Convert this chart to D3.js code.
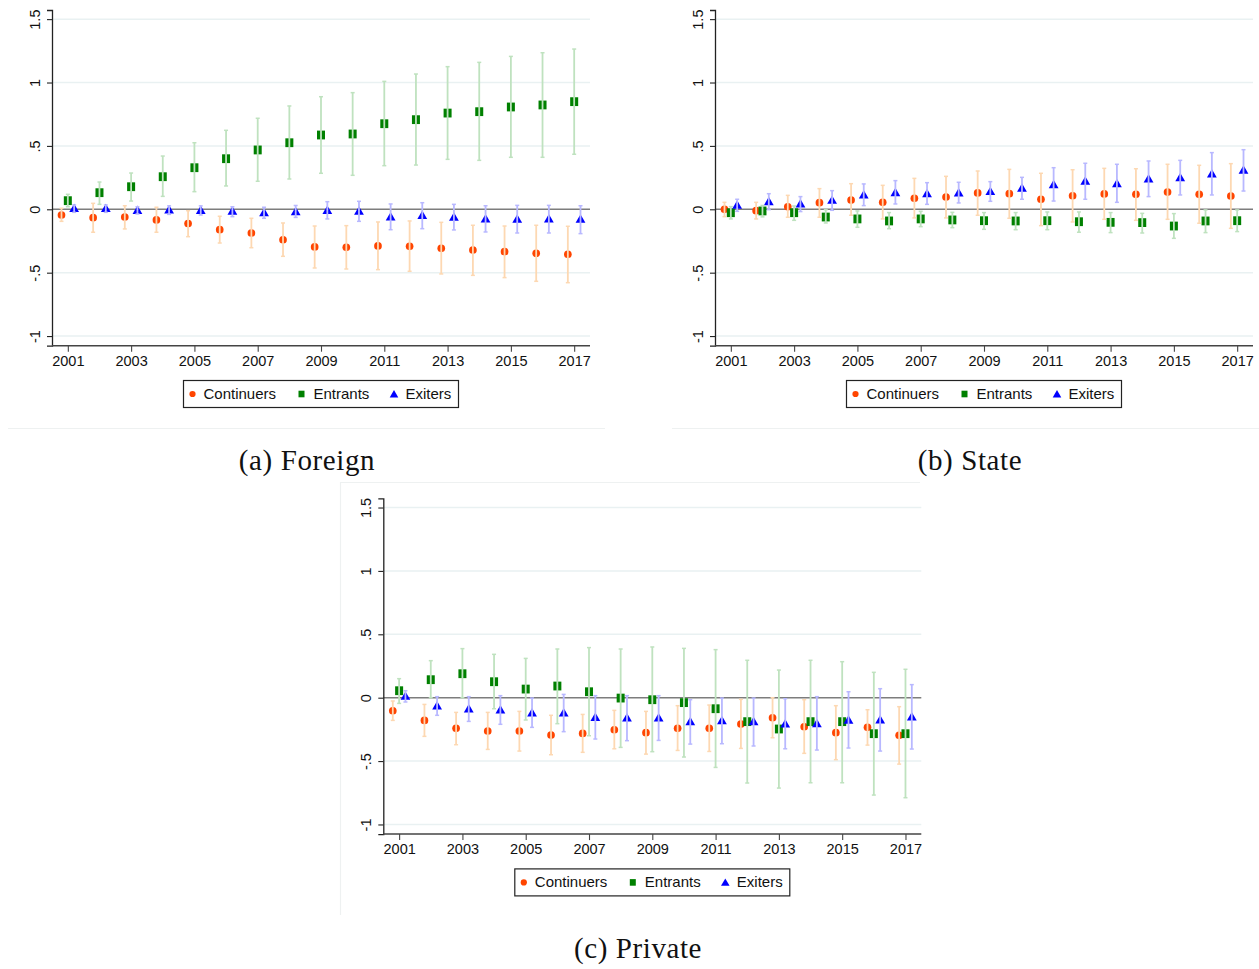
<!DOCTYPE html>
<html><head><meta charset="utf-8">
<script src="https://cdn.jsdelivr.net/npm/d3@7"></script>
<style>
html,body{margin:0;padding:0;background:#fff;}
svg{display:block;}
</style></head>
<body>
<script>
// ---------- DATA ----------
const years = [2001,2002,2003,2004,2005,2006,2007,2008,2009,2010,2011,2012,2013,2014,2015,2016,2017];
const xTickYears = [2001,2003,2005,2007,2009,2011,2013,2015,2017];
const yTickValues = [-1,-0.5,0,0.5,1,1.5];
const yTickLabels = ["-1","-.5","0",".5","1","1.5"];
const seriesNames = ["Continuers","Entrants","Exiters"];
const panelCaptions = ["(a) Foreign","(b) State","(c) Private"];

// (a) Foreign
const foreignContCoef = [-0.045,-0.066,-0.061,-0.084,-0.113,-0.161,-0.187,-0.240,-0.297,-0.300,-0.289,-0.292,-0.308,-0.321,-0.334,-0.347,-0.355];
const foreignContHi   = [0.008,0.047,0.028,0.016,-0.011,-0.055,-0.071,-0.108,-0.132,-0.129,-0.100,-0.092,-0.103,-0.126,-0.132,-0.126,-0.134];
const foreignContLo   = [-0.095,-0.181,-0.155,-0.181,-0.216,-0.266,-0.303,-0.371,-0.463,-0.471,-0.476,-0.489,-0.510,-0.521,-0.539,-0.568,-0.579];
const foreignEntCoef  = [0.068,0.131,0.178,0.257,0.328,0.399,0.468,0.525,0.586,0.594,0.675,0.707,0.759,0.770,0.807,0.823,0.849];
const foreignEntHi    = [0.118,0.215,0.286,0.420,0.525,0.623,0.718,0.815,0.888,0.920,1.009,1.067,1.125,1.159,1.206,1.235,1.264];
const foreignEntLo    = [0.020,0.039,0.065,0.102,0.139,0.184,0.221,0.239,0.284,0.268,0.344,0.349,0.394,0.386,0.410,0.410,0.434];
const foreignExitCoef = [0.008,0.008,-0.006,-0.003,-0.006,-0.013,-0.024,-0.016,-0.006,-0.013,-0.058,-0.047,-0.061,-0.074,-0.076,-0.074,-0.076];
const foreignExitHi   = [0.034,0.034,0.020,0.027,0.027,0.020,0.016,0.030,0.060,0.063,0.042,0.052,0.039,0.028,0.031,0.031,0.028];
const foreignExitLo   = [-0.024,-0.024,-0.037,-0.040,-0.045,-0.058,-0.071,-0.064,-0.076,-0.095,-0.161,-0.153,-0.163,-0.179,-0.187,-0.187,-0.192];

// (b) State
const stateContCoef = [0.000,-0.011,0.020,0.052,0.073,0.055,0.087,0.097,0.129,0.123,0.079,0.107,0.121,0.118,0.136,0.118,0.105];
const stateContHi   = [0.055,0.055,0.110,0.163,0.202,0.189,0.244,0.260,0.302,0.315,0.284,0.312,0.323,0.320,0.355,0.347,0.360];
const stateContLo   = [-0.058,-0.076,-0.063,-0.063,-0.047,-0.076,-0.068,-0.068,-0.047,-0.071,-0.129,-0.100,-0.079,-0.087,-0.079,-0.110,-0.150];
const stateEntCoef  = [-0.027,-0.013,-0.027,-0.061,-0.076,-0.092,-0.076,-0.084,-0.090,-0.092,-0.090,-0.098,-0.103,-0.105,-0.132,-0.092,-0.090];
const stateEntHi    = [0.021,0.030,0.026,-0.003,-0.013,-0.026,-0.016,-0.024,-0.026,-0.026,-0.021,-0.021,-0.026,-0.032,-0.034,-0.005,-0.005];
const stateEntLo    = [-0.076,-0.060,-0.087,-0.108,-0.142,-0.153,-0.137,-0.145,-0.158,-0.161,-0.161,-0.181,-0.184,-0.187,-0.229,-0.184,-0.176];
const stateExitCoef = [0.034,0.063,0.044,0.073,0.115,0.134,0.126,0.131,0.142,0.168,0.197,0.223,0.205,0.241,0.252,0.281,0.310];
const stateExitHi   = [0.079,0.123,0.100,0.147,0.200,0.226,0.210,0.213,0.218,0.252,0.328,0.363,0.355,0.381,0.386,0.447,0.470];
const stateExitLo   = [-0.016,-0.003,-0.018,-0.008,0.029,0.042,0.039,0.050,0.063,0.079,0.065,0.079,0.055,0.100,0.113,0.113,0.144];

// (c) Private
const privContCoef = [-0.103,-0.179,-0.242,-0.263,-0.263,-0.295,-0.282,-0.253,-0.276,-0.242,-0.242,-0.208,-0.158,-0.229,-0.276,-0.234,-0.297];
const privContHi   = [-0.026,-0.053,-0.116,-0.116,-0.108,-0.139,-0.132,-0.100,-0.108,-0.063,-0.058,-0.013,0.000,-0.016,-0.063,-0.095,-0.071];
const privContLo   = [-0.179,-0.305,-0.371,-0.408,-0.421,-0.450,-0.431,-0.403,-0.445,-0.416,-0.424,-0.400,-0.316,-0.439,-0.489,-0.374,-0.524];
const privEntCoef  = [0.055,0.142,0.189,0.126,0.068,0.092,0.047,-0.003,-0.016,-0.039,-0.087,-0.189,-0.247,-0.189,-0.189,-0.284,-0.284];
const privEntHi    = [0.150,0.292,0.387,0.342,0.310,0.384,0.395,0.384,0.400,0.389,0.379,0.295,0.218,0.295,0.284,0.200,0.224];
const privEntLo    = [-0.045,0.000,0.000,-0.087,-0.176,-0.205,-0.300,-0.392,-0.426,-0.468,-0.550,-0.673,-0.713,-0.671,-0.671,-0.768,-0.789];
const privExitCoef = [0.013,-0.063,-0.087,-0.095,-0.118,-0.118,-0.153,-0.158,-0.158,-0.187,-0.179,-0.187,-0.205,-0.203,-0.176,-0.174,-0.150];
const privExitHi   = [0.055,0.008,0.008,0.016,-0.003,0.026,0.016,0.016,0.016,-0.016,-0.003,-0.003,-0.008,0.008,0.047,0.071,0.103];
const privExitLo   = [-0.034,-0.139,-0.187,-0.210,-0.234,-0.268,-0.326,-0.339,-0.337,-0.366,-0.363,-0.381,-0.403,-0.413,-0.397,-0.421,-0.405];

// ---------- STYLE / LAYOUT ----------
const W = 1259, H = 969;
const markerColors = ["#ff4500","#008000","#0000ff"];
const barColors = ["#fdd8b2","#bfe2bf","#b8b8ff"];
const yearOffsets = [-0.2, 0, 0.2];
const plotW = 538, plotH = 335.7;
const sansFont = "'Liberation Sans', Arial, Helvetica, sans-serif";
const serifFont = "'Liberation Serif', 'DejaVu Serif', serif";

const panels = [
  {L: 52,    T: 10,    capX: 307, capY: 470,
   series: [[foreignContCoef,foreignContLo,foreignContHi],[foreignEntCoef,foreignEntLo,foreignEntHi],[foreignExitCoef,foreignExitLo,foreignExitHi]]},
  {L: 715,   T: 10,    capX: 970, capY: 470,
   series: [[stateContCoef,stateContLo,stateContHi],[stateEntCoef,stateEntLo,stateEntHi],[stateExitCoef,stateExitLo,stateExitHi]]},
  {L: 383.3, T: 498.4, capX: 638, capY: 958,
   series: [[privContCoef,privContLo,privContHi],[privEntCoef,privEntLo,privEntHi],[privExitCoef,privExitLo,privExitHi]]}
];

const svg = d3.select("body").append("svg").attr("width", W).attr("height", H);

// faint graph-region borders
const faint = "#eef1f1";
svg.append("line").attr("x1",8).attr("x2",605).attr("y1",428.5).attr("y2",428.5).attr("stroke",faint).attr("stroke-width",1.2);
svg.append("line").attr("x1",672).attr("x2",1259).attr("y1",428.5).attr("y2",428.5).attr("stroke",faint).attr("stroke-width",1.2);
svg.append("line").attr("x1",340).attr("x2",920).attr("y1",482.5).attr("y2",482.5).attr("stroke",faint).attr("stroke-width",1.2);
svg.append("line").attr("x1",340.5).attr("x2",340.5).attr("y1",482).attr("y2",915).attr("stroke",faint).attr("stroke-width",1.2);

function drawMarker(g, type, x, y, size, color) {
  if (type === 0) {
    g.append("circle").attr("cx",x).attr("cy",y).attr("r",size*0.48).attr("fill",color);
  } else if (type === 1) {
    g.append("rect").attr("x",x-size*0.5).attr("y",y-size*0.55).attr("width",size).attr("height",size*1.1).attr("fill",color);
  } else {
    const s = size*1.2;
    g.append("path").attr("d", d3.symbol().type(d3.symbolTriangle).size(s*s*0.45)()).attr("transform",`translate(${x},${y+1})`).attr("fill",color);
  }
}

panels.forEach((p, pi) => {
  const g = svg.append("g");
  const x = d3.scaleLinear().domain([2000.5, 2017.5]).range([p.L, p.L + plotW]);
  const y = d3.scaleLinear().domain([-1.076, 1.572]).range([p.T + plotH, p.T]);

  // gridlines
  yTickValues.forEach(v => {
    if (v === 0) return;
    g.append("line").attr("x1",p.L).attr("x2",p.L+plotW).attr("y1",y(v)).attr("y2",y(v))
      .attr("stroke","#e9f1f2").attr("stroke-width",1.5);
  });
  // zero line
  g.append("line").attr("x1",p.L).attr("x2",p.L+plotW).attr("y1",y(0)).attr("y2",y(0))
    .attr("stroke","#7d7d7d").attr("stroke-width",1.5);

  // axes
  const yAxis = d3.axisLeft(y).tickValues(yTickValues).tickSize(5).tickFormat((d,i)=>yTickLabels[i]);
  const ya = g.append("g").attr("transform",`translate(${p.L},0)`).call(yAxis);
  ya.select(".domain").attr("stroke","#222").attr("stroke-width",1.3);
  ya.selectAll(".tick line").attr("stroke","#222").attr("stroke-width",1.1);
  ya.selectAll(".tick text").attr("font-family",sansFont).attr("font-size","14.5px").attr("fill","#111")
    .attr("x",0).attr("dy",0).attr("text-anchor","middle")
    .attr("transform","translate(-12.5,0) rotate(-90)");

  const xAxis = d3.axisBottom(x).tickValues(xTickYears).tickSize(6).tickFormat(d3.format("d"));
  const xa = g.append("g").attr("transform",`translate(0,${p.T+plotH})`).call(xAxis);
  xa.select(".domain").attr("stroke","#444").attr("stroke-width",1.5).attr("d",`M${p.L},0H${p.L+plotW}`);
  xa.selectAll(".tick line").attr("stroke","#444").attr("stroke-width",1.1);
  xa.selectAll(".tick text").attr("font-family",sansFont).attr("font-size","14.5px").attr("fill","#111")
    .attr("y",20).attr("dy",0);

  // markers first, then caps on top
  p.series.forEach((s, si) => {
    const [coef] = s;
    years.forEach((yr, i) => {
      drawMarker(g, si, x(yr + yearOffsets[si]), y(coef[i]), 8, markerColors[si]);
    });
  });
  p.series.forEach((s, si) => {
    const [coef, lo, hi] = s;
    years.forEach((yr, i) => {
      const cx = x(yr + yearOffsets[si]);
      g.append("line").attr("x1",cx).attr("x2",cx).attr("y1",y(hi[i])).attr("y2",y(lo[i]))
        .attr("stroke",barColors[si]).attr("stroke-width",1.8);
      [hi[i], lo[i]].forEach(v => {
        g.append("line").attr("x1",cx-2).attr("x2",cx+2).attr("y1",y(v)).attr("y2",y(v))
          .attr("stroke",barColors[si]).attr("stroke-width",1.5);
      });
    });
  });

  // legend
  const lx = p.L + 131, ly = p.T + 370, lw = 275, lh = 27;
  const lg = svg.append("g");
  lg.append("rect").attr("x",lx+0.5).attr("y",ly+0.5).attr("width",lw).attr("height",lh)
    .attr("fill","#fff").attr("stroke","#222").attr("stroke-width",1.2);
  const itemMarkerX = [9.5, 118.5, 211];
  const itemTextX = [20.5, 130.5, 222.5];
  seriesNames.forEach((n, si) => {
    drawMarker(lg, si, lx + itemMarkerX[si], ly + 14, si === 1 ? 6 : (si === 0 ? 6.5 : 7), markerColors[si]);
    lg.append("text").attr("x", lx + itemTextX[si]).attr("y", ly + 19).text(n)
      .attr("font-family",sansFont).attr("font-size","15px").attr("fill","#111");
  });

  // caption
  svg.append("text").attr("x",p.capX).attr("y",p.capY).attr("text-anchor","middle")
    .attr("font-family",serifFont).attr("font-size","29px").attr("letter-spacing","0.6px").attr("fill","#111")
    .text(panelCaptions[pi]);
});
</script>
</body></html>
